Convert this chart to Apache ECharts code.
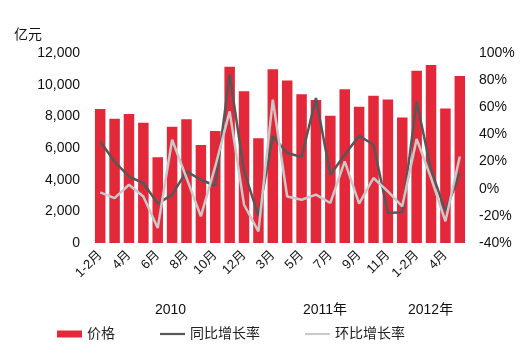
<!DOCTYPE html>
<html>
<head>
<meta charset="utf-8">
<script src="https://cdn.jsdelivr.net/npm/echarts@6/dist/echarts.min.js"></script>
<style>html,body{margin:0;padding:0;background:#fff}#c{width:532px;height:357px}</style>
</head>
<body>
<div id="c"></div>
<script>
const categories = ['1-2月','3月','4月','5月','6月','7月','8月','9月','10月','11月','12月',
  '1-2月','3月','4月','5月','6月','7月','8月','9月','10月','11月','12月',
  '1-2月','3月','4月','5月'];
const price = [8460,7850,8150,7600,5410,7350,7810,6190,7080,11130,9580,6610,
  10970,10270,9390,9030,8040,9710,8610,9300,9070,7920,10880,11240,8500,10540];
const yoy = [34.8,20,9,4.2,-11,-4.4,12.8,6.6,2.2,84,13,-20,
  38.6,26.3,23.4,66.8,10.3,25,39,32.4,-17.9,-17.4,64.3,14,-16.7,11.6];
const mom = [-2.7,-6.9,2.9,-5.7,-29,36.1,8,-20.4,16.4,57,-11.8,-31.4,
  65.6,-5.7,-8.1,-4.4,-10.5,20.1,-11,7.9,-2,-13,36.6,8,-24,23.8];
const leftTicks = {min:0, max:12000, interval:2000};
const rightTicks = {min:-40, max:100, interval:20};
const yearLabels = ['2010','2011年','2012年'];
const seriesNames = ['价格','同比增长率','环比增长率'];

const FF = '"Liberation Sans", Arial, "Noto Sans CJK SC", sans-serif';
const lineIcon = 'path://M0,0H25V2.2H0Z';
const chart = echarts.init(document.getElementById('c'));
chart.setOption({
  animation:false,
  textStyle:{fontFamily:FF},
  grid:{left:93, right:65, top:53, bottom:114, containLabel:false},
  legend:{
    left:52, top:322, itemWidth:25, itemHeight:7, itemGap:45,
    textStyle:{fontSize:14, color:'#222', fontFamily:FF},
    data:[{name:seriesNames[0], icon:'rect'},
          {name:seriesNames[1], icon:lineIcon},
          {name:seriesNames[2], icon:lineIcon}]
  },
  graphic:[
    {type:'text', left:155, top:303, style:{text:yearLabels[0], fontSize:14, fill:'#111', fontFamily:FF}},
    {type:'text', left:303, top:303, style:{text:yearLabels[1], fontSize:14, fill:'#111', fontFamily:FF}},
    {type:'text', left:408, top:303, style:{text:yearLabels[2], fontSize:14, fill:'#111', fontFamily:FF}}
  ],
  xAxis:{
    type:'category', data:categories, boundaryGap:true,
    axisLine:{show:false}, axisTick:{show:false},
    axisLabel:{interval:1, rotate:45, fontSize:13, color:'#111', margin:10, fontFamily:FF}
  },
  yAxis:[
    {type:'value', name:'亿元', min:leftTicks.min, max:leftTicks.max, interval:leftTicks.interval,
     nameLocation:'end', nameGap:11, nameTextStyle:{fontSize:14, color:'#111', align:'right', padding:[0,51,0,0], fontFamily:FF},
     axisLine:{show:false}, axisTick:{show:false}, splitLine:{show:false},
     axisLabel:{fontSize:14, color:'#111', margin:13, fontFamily:FF,
       formatter:v=>v.toLocaleString('en-US')}},
    {type:'value', min:rightTicks.min, max:rightTicks.max, interval:rightTicks.interval,
     axisLine:{show:false}, axisTick:{show:false}, splitLine:{show:false},
     axisLabel:{fontSize:14, color:'#111', margin:12, fontFamily:FF, formatter:v=>v+'%'}}
  ],
  series:[
    {name:seriesNames[0], type:'bar', data:price, yAxisIndex:0, barCategoryGap:'27%',
     itemStyle:{color:'#E3283A'}},
    {name:seriesNames[1], type:'line', data:yoy, yAxisIndex:1, symbol:'none',
     lineStyle:{color:'#575757', width:2.5}, itemStyle:{color:'#575757'}},
    {name:seriesNames[2], type:'line', data:mom, yAxisIndex:1, symbol:'none',
     lineStyle:{color:'#C9C9C9', width:2.5}, itemStyle:{color:'#C9C9C9'}}
  ]
});
</script>
</body>
</html>
